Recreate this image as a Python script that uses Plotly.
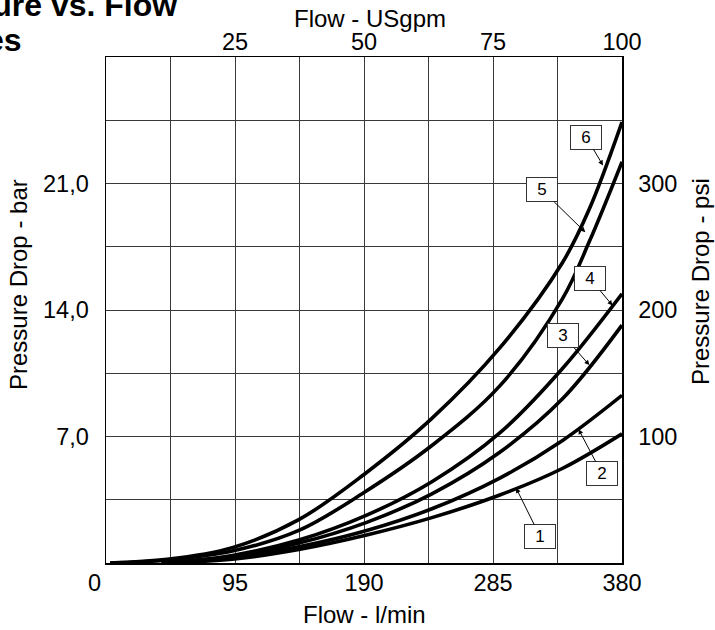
import plotly.graph_objects as go

# ---------------- data ----------------
# flow in l/min, pressure drop in bar
curve_names = ["1", "2", "3", "4", "5", "6"]

flow_1 = [41, 93, 142, 192, 240, 290, 336, 380]
dp_1 = [0.0, 0.21, 0.75, 1.55, 2.51, 3.76, 5.23, 7.15]

flow_2 = [41, 93, 142, 192, 240, 290, 336, 380]
dp_2 = [0.0, 0.31, 0.90, 1.80, 3.00, 4.70, 6.77, 9.28]

flow_3 = [41, 93, 142, 192, 240, 290, 336, 380]
dp_3 = [0.0, 0.36, 1.10, 2.25, 3.83, 6.13, 9.07, 13.16]

flow_4 = [41, 93, 142, 192, 240, 290, 336, 380]
dp_4 = [0.0, 0.42, 1.27, 2.65, 4.50, 7.20, 10.75, 14.90]

flow_5 = [3, 45, 93, 142, 190, 240, 290, 336, 356, 380]
dp_5 = [0.0, 0.17, 0.66, 1.80, 3.90, 6.50, 9.80, 14.60, 17.80, 22.20]

flow_6 = [3, 45, 93, 142, 190, 240, 290, 336, 356, 380]
dp_6 = [0.0, 0.20, 0.85, 2.40, 4.90, 8.00, 11.90, 16.60, 19.60, 24.40]

# where each numbered label's arrow touches its curve (flow l/min, bar)
label_flow = [302, 348, 356, 373, 353, 366]
label_dp = [4.15, 7.40, 10.95, 14.25, 18.30, 22.00]

# axis ticks
lpm_ticks = [0, 47.5, 95, 142.5, 190, 237.5, 285, 332.5, 380]
lpm_text = ["", "", "95", "", "190", "", "285", "", "380"]
gpm_ticks = [25, 50, 75, 100]
bar_ticks = [0, 3.5, 7, 10.5, 14, 17.5, 21, 24.5, 28]
bar_text = ["", "", "7,0", "", "14,0", "", "21,0", "", ""]
psi_ticks = [100, 200, 300]

# ---------------- figure ----------------
FONT = "Liberation Sans, Arial, Helvetica, sans-serif"
W, H = 715, 630
L, R, T, B = 106, 93, 57, 67
pw, ph = W - L - R, H - T - B

def px_x(p):                  # page pixel -> paper x
    return (p - L) / pw

def px_y(p):                  # page pixel -> paper y
    return (H - B - p) / ph

fig = go.Figure()
series = [(flow_1, dp_1), (flow_2, dp_2), (flow_3, dp_3),
          (flow_4, dp_4), (flow_5, dp_5), (flow_6, dp_6)]
for name, (fx, fy) in zip(curve_names, series):
    fig.add_trace(go.Scatter(
        x=fx, y=fy, mode="lines", name=name,
        line=dict(color="black", width=3.6, shape="spline", smoothing=1.0),
        hoverinfo="skip", showlegend=False, cliponaxis=True))

fig.add_trace(go.Scatter(x=[None], y=[None], xaxis="x2", yaxis="y2",
                         showlegend=False, hoverinfo="skip"))

tickfont = dict(family=FONT, size=23.5, color="black")
titlefont = dict(family=FONT, size=24, color="black")
fig.update_layout(
    width=W, height=H,
    margin=dict(l=L, r=R, t=T, b=B, autoexpand=False),
    paper_bgcolor="white", plot_bgcolor="white",
    showlegend=False, hovermode=False,
    font=dict(family=FONT, color="black"),
    xaxis=dict(range=[0, 380], tickmode="array", tickvals=lpm_ticks, ticktext=lpm_text,
               showgrid=True, gridcolor="#3a3a3a", gridwidth=1,
               showline=True, linecolor="black", linewidth=1.5,
               zeroline=False, ticks="", tickfont=tickfont, ticklabelstandoff=-2,
               fixedrange=True),
    xaxis2=dict(range=[0, 100], overlaying="x", side="top", tickmode="array",
                tickvals=gpm_ticks, ticktext=[str(v) for v in gpm_ticks],
                showgrid=False, showline=True, linecolor="black", linewidth=1.5,
                zeroline=False, ticks="", tickfont=tickfont, ticklabelstandoff=-4,
                fixedrange=True),
    yaxis=dict(range=[0, 28], tickmode="array", tickvals=bar_ticks, ticktext=bar_text,
               showgrid=True, gridcolor="#3a3a3a", gridwidth=1,
               showline=True, linecolor="black", linewidth=1.5,
               zeroline=False, ticks="", tickfont=tickfont, ticklabelstandoff=11,
               fixedrange=True),
    yaxis2=dict(range=[0, 400], overlaying="y", side="right", tickmode="array",
                tickvals=psi_ticks, ticktext=[str(v) for v in psi_ticks],
                showgrid=False, showline=True, linecolor="black", linewidth=1.5,
                zeroline=False, ticks="", tickfont=tickfont, ticklabelstandoff=10,
                fixedrange=True),
)

ann = []
# title, partly off the page as in the reference
ann.append(dict(text="<b>Pressure vs. Flow</b>", xref="paper", yref="paper",
                x=px_x(-97), y=px_y(5), xanchor="left", yanchor="middle",
                showarrow=False, font=dict(family=FONT, size=32, color="black")))
ann.append(dict(text="<b>Curves</b>", xref="paper", yref="paper",
                x=px_x(-89), y=px_y(40), xanchor="left", yanchor="middle",
                showarrow=False, font=dict(family=FONT, size=32, color="black")))
# axis titles
ann.append(dict(text="Flow - USgpm", xref="paper", yref="paper",
                x=px_x(370), y=px_y(18), xanchor="center", yanchor="middle",
                showarrow=False, font=titlefont))
ann.append(dict(text="Flow - l/min", xref="paper", yref="paper",
                x=px_x(364), y=px_y(614), xanchor="center", yanchor="middle",
                showarrow=False, font=titlefont))
ann.append(dict(text="Pressure Drop - bar", xref="paper", yref="paper",
                x=px_x(18), y=px_y(285), xanchor="center", yanchor="middle",
                textangle=-90, showarrow=False, font=titlefont))
ann.append(dict(text="Pressure Drop - psi", xref="paper", yref="paper",
                x=px_x(700), y=px_y(282), xanchor="center", yanchor="middle",
                textangle=-90, showarrow=False, font=titlefont))
# the "0" of the flow axis sits left of the corner
ann.append(dict(text="0", xref="paper", yref="paper",
                x=px_x(94), y=px_y(583), xanchor="center", yanchor="middle",
                showarrow=False, font=tickfont))

# numbered curve labels with leader arrows (box offset in pixels)
box_dx = [24, 23.5, -26, -22.5, -43.5, -16.5]
box_dy = [48.5, 44.5, -29.5, -27, -42.5, -28]
for name, qx, py, dx, dy in zip(curve_names, label_flow, label_dp, box_dx, box_dy):
    ann.append(dict(text=name, x=qx, y=py, xref="x", yref="y",
                    ax=dx, ay=dy, showarrow=True, arrowhead=2, arrowsize=1,
                    arrowwidth=1, arrowcolor="black", standoff=0,
                    bordercolor="#333333", borderwidth=1, borderpad=1,
                    bgcolor="white", width=28, height=21,
                    font=dict(family=FONT, size=17, color="black")))

fig.update_layout(annotations=ann)
fig.write_html("out.html",
               config={"displayModeBar": False, "staticPlot": True},
               post_script="document.body.style.margin='0px';document.body.style.overflow='hidden';")
